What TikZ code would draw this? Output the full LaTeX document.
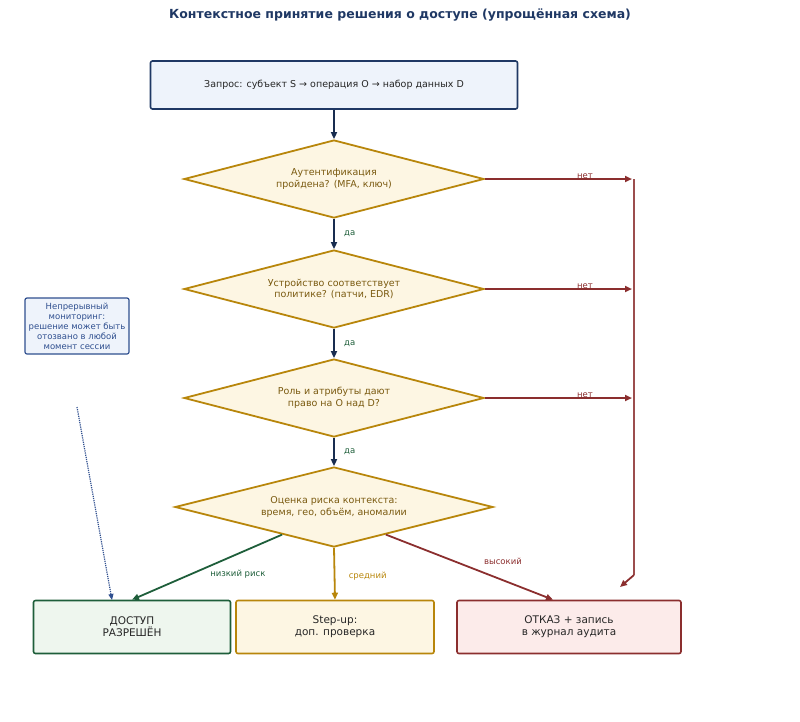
\documentclass[tikz,border=0pt]{standalone}
\usepackage{fontspec}
\setmainfont{DejaVu Sans}
\usetikzlibrary{shapes.geometric,arrows.meta}
\definecolor{navy}{HTML}{1F3864}
\definecolor{gold}{HTML}{B8860B}
\definecolor{goldfill}{HTML}{FDF6E3}
\definecolor{goldtext}{HTML}{7A5A10}
\definecolor{darkred}{HTML}{8B2E2E}
\definecolor{redfill}{HTML}{FCEBEA}
\definecolor{darkgreen}{HTML}{1E5E3A}
\definecolor{greenfill}{HTML}{EEF6EE}
\definecolor{bluefill}{HTML}{EEF3FB}
\definecolor{notetext}{HTML}{2F4F8F}
\tikzset{
  mybox/.style={rectangle,rounded corners=2pt,line width=1.6pt,align=center,font=\fontsize{9.5}{11.5}\selectfont},
  mydec/.style={diamond,draw=gold,fill=goldfill,text=goldtext,line width=1.8pt,inner sep=0pt,
    shape aspect=3.85,minimum width=300pt,minimum height=78pt,align=center,font=\fontsize{9.5}{11.5}\selectfont},
  myarrow/.style={line width=1.8pt,-{Triangle[length=7pt,width=6pt]}},
  mylabel/.style={font=\fontsize{8.5}{10}\selectfont}
}
\begin{document}
\begin{tikzpicture}[x=1pt,y=-1pt]
	\useasboundingbox (0,0) rectangle (800,721);
	\node[font=\bfseries\fontsize{12.5}{14}\selectfont,text=navy] (title) at (400,15) {Контекстное принятие решения о доступе (упрощённая схема)};

	\node[mybox,draw=navy,fill=bluefill,text=black!85,minimum width=367pt,minimum height=48pt] (req) at (334,85) {Запрос: субъект S → операция O → набор данных D};

	\node[mydec] (auth) at (334,179) {Аутентификация\\пройдена? (MFA, ключ)};
	\node[mydec] (dev) at (334,289) {Устройство соответствует\\политике? (патчи, EDR)};
	\node[mydec] (role) at (334,398) {Роль и атрибуты дают\\право на O над D?};
	\node[mydec,shape aspect=3.97,minimum width=318pt,minimum height=80pt] (risk) at (334,507) {Оценка риска контекста:\\время, гео, объём, аномалии};

	\node[mybox,draw=darkgreen,fill=greenfill,text=black!85,minimum width=197pt,minimum height=53pt,font=\fontsize{10.5}{12}\selectfont] (allow) at (132,627) {ДОСТУП\\РАЗРЕШЁН};
	\node[mybox,draw=gold,fill=goldfill,text=black!85,minimum width=198pt,minimum height=53pt,font=\fontsize{10.5}{12}\selectfont] (step) at (335,627) {Step-up:\\доп. проверка};
	\node[mybox,draw=darkred,fill=redfill,text=black!85,minimum width=224pt,minimum height=53pt,font=\fontsize{10.5}{12}\selectfont] (deny) at (569,627) {ОТКАЗ + запись\\в журнал аудита};

	\node[mybox,draw=notetext,fill=bluefill,text=notetext,line width=1.2pt,minimum width=104pt,minimum height=56pt,inner sep=1pt,font=\fontsize{8.5}{10}\selectfont] (note) at (77,326) {Непрерывный\\мониторинг:\\решение может быть\\отозвано в любой\\момент сессии};

	% main path
	\draw[myarrow,navy!80!black] (req) -- (auth);
	\foreach \a/\b in {auth/dev,dev/role,role/risk} {
		\draw[myarrow,navy!80!black] (\a) -- node[mylabel,text=darkgreen,right=6pt] {да} (\b);
	}

	% rejects
	\coordinate (rtop) at (634,179);
	\coordinate (rbot) at (634,575);
	\coordinate (rend) at (620,587);
	\foreach \a in {auth,dev,role} {
		\draw[myarrow,darkred] (\a.east) -- node[mylabel,text=darkred,pos=0.68,yshift=3pt] {нет} (\a.east -| 632,0);
	}
	\draw[line width=1.8pt,darkred!85] (rtop) -- (rbot);
	\draw[myarrow,darkred] (rbot) -- (rend);

	% risk outcomes
	\draw[myarrow,darkgreen] (risk.-152) -- node[mylabel,text=darkgreen,pos=0.6,right=14pt] {низкий риск} (allow.north);
	\draw[myarrow,gold] (risk.south) -- node[mylabel,text=gold,pos=0.55,right=10pt] {средний} (step.north);
	\draw[myarrow,darkred] (risk.-28) -- node[mylabel,text=darkred,pos=0.55,above right=2pt] {высокий} (deny.north -| 553,0);

	% monitoring
	\coordinate (mon) at (77,407);
	\draw[notetext,line width=1.2pt,densely dotted,-{Triangle[length=6pt,width=5pt]}] (mon) -- (112,600);
\end{tikzpicture}
\end{document}
